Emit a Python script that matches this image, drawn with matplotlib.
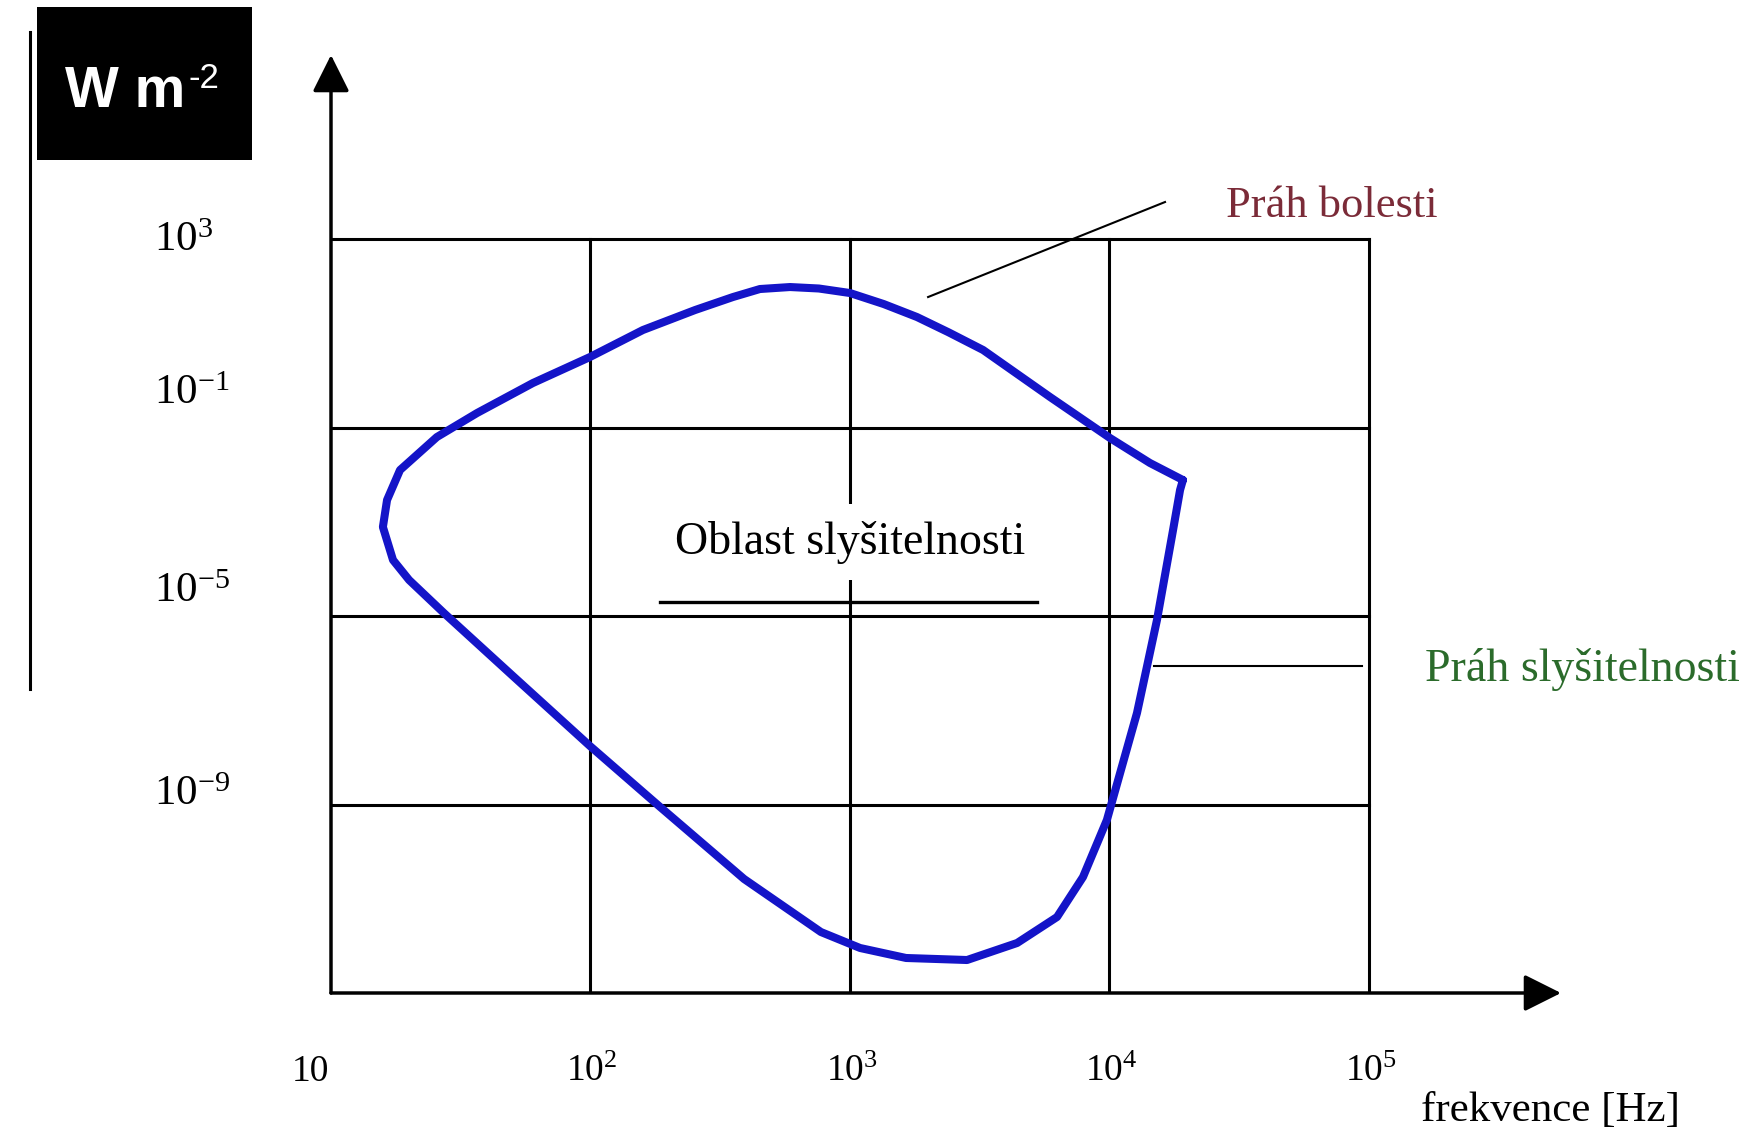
import numpy as np
import matplotlib.pyplot as plt
from matplotlib.lines import Line2D
from matplotlib.patches import Rectangle

plt.rcParams['font.family'] = ['Liberation Serif', 'DejaVu Serif']
plt.rcParams['mathtext.fontset'] = 'custom'
plt.rcParams['mathtext.rm'] = 'Liberation Serif'
plt.rcParams['mathtext.default'] = 'regular'

# obrys oblasti slysitelnosti: log10 frekvence [Hz], log10 intenzity [W m-2]
log_f = [4.283, 4.156, 4.002, 3.771, 3.513, 3.380, 3.258, 3.130, 3.000, 2.880,
         2.769, 2.653, 2.549, 2.403, 2.202, 1.998, 1.778, 1.563, 1.408, 1.266,
         1.216, 1.200, 1.239, 1.301, 1.435, 1.701, 1.998, 2.264, 2.592, 2.888,
         3.039, 3.216, 3.451, 3.644, 3.798, 3.898, 3.990, 4.106, 4.183, 4.245,
         4.272, 4.283]
log_i = [-2.114, -1.753, -1.223, -0.353, 0.645, 1.020, 1.345, 1.620, 1.854, 1.950,
         1.981, 1.939, 1.769, 1.493, 1.069, 0.496, -0.056, -0.692, -1.202, -1.902,
         -2.538, -3.111, -3.812, -4.236, -4.936, -6.273, -7.759, -9.032, -10.581, -11.706,
         -12.045, -12.257, -12.300, -11.939, -11.387, -10.538, -9.329, -7.058, -5.085, -3.175,
         -2.326, -2.114]

grid_f = [1e2, 1e3, 1e4, 1e5]
grid_i = [1e3, 1e-1, 1e-5, 1e-9]
f_ticks = [1e1, 1e2, 1e3, 1e4, 1e5]
f_labels = ['10', '$10^{2}$', '$10^{3}$', '$10^{4}$', '$10^{5}$']
i_labels = ['$10^{3}$', '$10^{-1}$', '$10^{-5}$', '$10^{-9}$']
i_label_pos = [2.745, -0.501, -4.703, -9.011]   # exponent of label baseline

W, H = 1748, 1138
fig = plt.figure(figsize=(W / 100, H / 100), dpi=100)
ax = fig.add_axes([331 / W, (H - 993) / H, 1230 / W, 938 / H])
ax.set_xscale('log')
ax.set_yscale('log')
ax.set_xlim(1e1, 10 ** 5.74)
ax.set_ylim(1e-13, 10 ** 6.905)
ax.axis('off')

# mrizka
for f in grid_f:
    ax.plot([f, f], [1e-13, 1e3], color='k', lw=2.2)
for i in grid_i:
    ax.plot([1e1, 1e5], [i, i], color='k', lw=2.2)

# osy se sipkami
arrow = dict(arrowstyle='-|>,head_length=0.6,head_width=0.3', color='k', lw=2.5,
             mutation_scale=38, shrinkA=0, shrinkB=0)
ax.annotate('', xy=(1e1, 10 ** 6.905), xytext=(1e1, 1e-13), arrowprops=arrow,
            annotation_clip=False)
ax.annotate('', xy=(10 ** 5.74, 1e-13), xytext=(1e1, 1e-13), arrowprops=arrow,
            annotation_clip=False)

# krivka
f = 10 ** np.array(log_f)
i = 10 ** np.array(log_i)
ax.plot(f, i, color='#1414c8', lw=5.8, solid_joinstyle='round', solid_capstyle='round')

# popisky os
xt = ax.get_xaxis_transform()
for v, lab in zip(f_ticks, f_labels):
    dx = -39 if lab == '10' else -24
    ax.annotate(lab, xy=(v, 0), xycoords=xt, xytext=(dx, -88), textcoords='offset pixels',
                ha='left', va='baseline', fontsize=27)
yt = ax.get_yaxis_transform()
for p, lab in zip(i_label_pos, i_labels):
    ax.text(-0.1439, 10 ** p, lab, transform=yt, ha='left', va='baseline', fontsize=31)

ax.text(10 ** 5.2, 10 ** -15.5, 'frekvence [Hz]', ha='left', va='center', fontsize=31)

# texty v grafu
ax.text(1e3, 10 ** -3.43, 'Oblast slyšitelnosti', ha='center', va='center', fontsize=33,
        bbox=dict(boxstyle='square,pad=0.35', fc='white', ec='none'))
ax.plot([10 ** 2.268, 10 ** 3.721], [10 ** -4.703, 10 ** -4.703], color='k', lw=2.4)

ax.plot([10 ** 3.301, 10 ** 4.214], [10 ** 1.769, 10 ** 3.785], color='k', lw=1.5)
ax.text(10 ** 4.449, 10 ** 3.70, 'Práh bolesti', ha='left', va='center', fontsize=32,
        color='#7b2b38')

ax.plot([10 ** 4.171, 10 ** 4.973], [10 ** -6.061, 10 ** -6.061], color='k', lw=1.5)
ax.text(10 ** 5.216, 10 ** -6.125, 'Práh slyšitelnosti', ha='left', va='center', fontsize=33,
        color='#2b6b2b', clip_on=False)

# jednotka v cernem ramecku
fig.add_artist(Rectangle((37 / W, 1 - 160 / H), 215 / W, 153 / H, transform=fig.transFigure,
                         facecolor='black', edgecolor='none'))
fig.text(65 / W, 1 - 107 / H, 'W m', color='white', fontsize=41, fontweight='bold',
         family='Liberation Sans', ha='left', va='baseline')
fig.text(188 / W, 1 - 88 / H, '-2', color='white', fontsize=25,
         family='Liberation Sans', ha='left', va='baseline')
fig.add_artist(Line2D([30 / W, 30 / W], [1 - 32 / H, 1 - 689 / H], transform=fig.transFigure,
                      color='black', lw=2.2))

fig.savefig('out.png', dpi=100, facecolor='white')
